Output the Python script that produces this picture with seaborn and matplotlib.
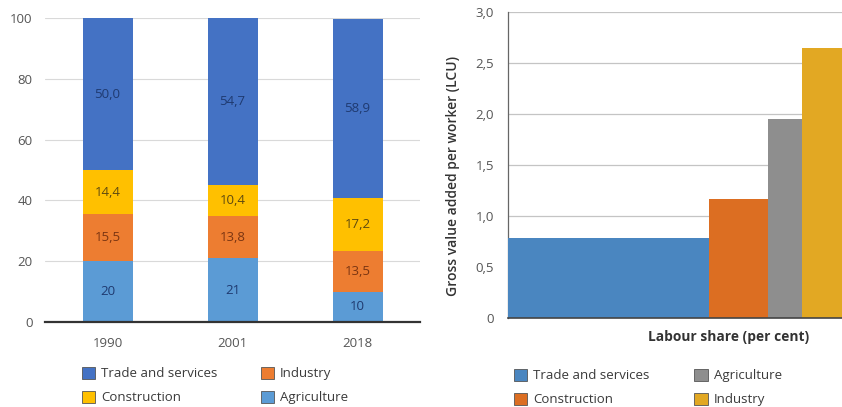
import matplotlib
matplotlib.use("Agg")
import matplotlib.pyplot as plt
from matplotlib.patches import Patch
import numpy as np
import pandas as pd
import seaborn as sns

# ---------------- data ----------------
years = ["1990", "2001", "2018"]
agriculture = [20, 21, 10]
industry = [15.5, 13.8, 13.5]
construction = [14.4, 10.4, 17.2]
trade = [50.0, 54.7, 58.9]
left_yticks = [0, 20, 40, 60, 80, 100]

sectors_r = ["Trade and services", "Construction", "Agriculture", "Industry"]
labour_share = [58.9, 17.2, 10.0, 13.5]
gva_per_worker = [0.78, 1.17, 1.95, 2.65]
right_yticks = [0, 0.5, 1.0, 1.5, 2.0, 2.5, 3.0]
right_yticklabels = ["0", "0,5", "1,0", "1,5", "2,0", "2,5", "3,0"]

# ---------------- style ----------------
sns.set_theme(style="white")
plt.rcParams["font.family"] = ["Open Sans", "DejaVu Sans"]

c_left = {"Trade and services": "#4472C4", "Construction": "#FFC000",
          "Industry": "#ED7D31", "Agriculture": "#5B9BD5"}
c_right = {"Trade and services": "#4A86C0", "Construction": "#DC6E22",
           "Agriculture": "#8E8E8E", "Industry": "#E2A823"}
tick_col = "#555555"

fig = plt.figure(figsize=(8.42, 4.07), dpi=100)

# ---------------- left: stacked bars ----------------
axL = fig.add_axes([45 / 842, (407 - 322) / 407, 375 / 842, (322 - 18) / 407])
agr = np.array(agriculture, float)
ind = np.array(industry, float)
con = np.array(construction, float)
trd = np.array(trade, float)
cum_ai = agr + ind
cum_aic = cum_ai + con
total = cum_aic + trd

layers = [(total, "Trade and services"), (cum_aic, "Construction"),
          (cum_ai, "Industry"), (agr, "Agriculture")]
for vals, name in layers:
    sns.barplot(x=years, y=vals, color=c_left[name], width=0.4, saturation=1,
                ax=axL, zorder=3, linewidth=0)

lab_col = {"Trade and services": "#1F3A70", "Construction": "#5E4A10",
           "Industry": "#7A3512", "Agriculture": "#1F3A70"}
for i in range(len(years)):
    segs = [(0, agr[i], "Agriculture", f"{agr[i]:.0f}"),
            (agr[i], cum_ai[i], "Industry", f"{ind[i]:.1f}".replace(".", ",")),
            (cum_ai[i], cum_aic[i], "Construction", f"{con[i]:.1f}".replace(".", ",")),
            (cum_aic[i], total[i], "Trade and services", f"{trd[i]:.1f}".replace(".", ","))]
    for lo, hi, name, txt in segs:
        axL.text(i, (lo + hi) / 2, txt, ha="center", va="center", fontsize=9.5,
                 color=lab_col[name], zorder=5)

axL.set_xlim(-0.5, 2.5)
axL.set_ylim(0, 100)
axL.set_yticks(left_yticks)
axL.set_yticklabels([str(v) for v in left_yticks])
axL.yaxis.grid(True, color="#d9d9d9", linewidth=0.8, zorder=0)
axL.set_axisbelow(True)
for s in ["top", "right", "left"]:
    axL.spines[s].set_visible(False)
axL.spines["bottom"].set_color("#333333")
axL.spines["bottom"].set_linewidth(1.6)
axL.spines["bottom"].set_zorder(6)
axL.tick_params(axis="both", length=0, labelsize=9.5, labelcolor=tick_col)
axL.tick_params(axis="y", pad=9)
axL.tick_params(axis="x", pad=11)
axL.set_xlabel("")
axL.set_ylabel("")

hL = [Patch(facecolor=c_left[n], edgecolor="#555555", linewidth=0.6, label=n)
      for n in ["Trade and services", "Construction", "Industry", "Agriculture"]]
fig.legend(handles=hL, loc="upper left", bbox_to_anchor=(82 / 842, 1 - 367 / 407),
           ncol=2, frameon=False, fontsize=9.5, handlelength=1.0, handleheight=1.0,
           handletextpad=0.45, columnspacing=3.3, labelspacing=0.8,
           labelcolor="#3a3a3a", borderaxespad=0, borderpad=0)

# ---------------- right: variable-width bars ----------------
axR = fig.add_axes([508 / 842, (407 - 318) / 407, 334 / 842, (318 - 12) / 407])
edges = [0.0] + [float(v) for v in np.cumsum(labour_share)]
centers = [(edges[k] + edges[k + 1]) / 2 for k in range(len(labour_share))]
dfR = pd.DataFrame({"share_mid": centers, "gva": gva_per_worker, "sector": sectors_r})
sns.histplot(data=dfR, x="share_mid", weights="gva", hue="sector",
             hue_order=sectors_r, palette=c_right, bins=edges, alpha=1,
             linewidth=0, legend=False, ax=axR, zorder=3)

axR.set_xlim(0, 334 / (201 / labour_share[0]))
axR.set_ylim(0, 3.0)
axR.set_yticks(right_yticks)
axR.set_yticklabels(right_yticklabels)
axR.set_xticks([])
axR.yaxis.grid(True, color="#c4c4c4", linewidth=0.9, zorder=0)
axR.set_axisbelow(True)
for s in ["top", "right"]:
    axR.spines[s].set_visible(False)
axR.spines["left"].set_color("#666666")
axR.spines["left"].set_linewidth(0.9)
axR.spines["bottom"].set_color("#444444")
axR.spines["bottom"].set_linewidth(1.2)
axR.spines["bottom"].set_zorder(6)
axR.tick_params(axis="y", length=4, color="#cccccc", labelsize=9.5,
                labelcolor=tick_col, pad=6)
axR.set_ylabel("Gross value added per worker (LCU)", fontsize=10,
               fontweight="semibold", color="#333333")
axR.yaxis.set_label_coords((460 - 508) / 334, (318 - 176) / 306)
axR.set_xlabel("Labour share (per cent)", fontsize=9.9, fontweight="bold",
               color="#333333")
axR.xaxis.set_label_coords((729 - 508) / 334, (318 - 330) / 306)

hR = [Patch(facecolor=c_right[n], edgecolor="#555555", linewidth=0.6, label=n)
      for n in ["Trade and services", "Construction", "Agriculture", "Industry"]]
fig.legend(handles=hR, loc="upper left", bbox_to_anchor=(514 / 842, 1 - 369 / 407),
           ncol=2, frameon=False, fontsize=9.5, handlelength=1.0, handleheight=1.0,
           handletextpad=0.45, columnspacing=3.4, labelspacing=0.8,
           labelcolor="#3a3a3a", borderaxespad=0, borderpad=0)

fig.savefig("out.png", dpi=100)
